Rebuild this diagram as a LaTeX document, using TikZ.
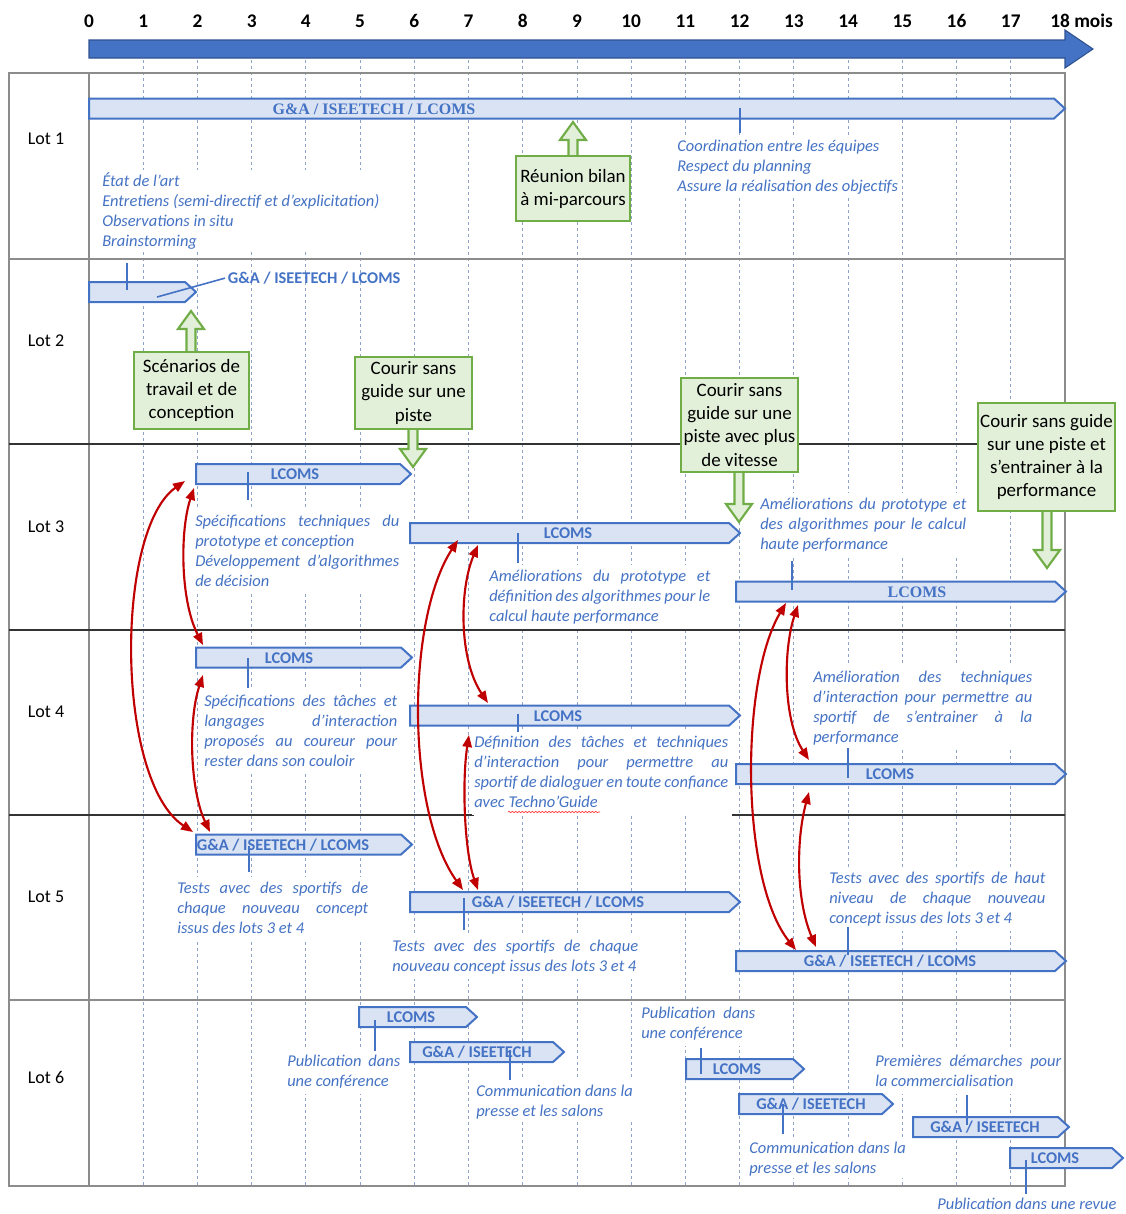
\documentclass[tikz,border=0pt]{standalone}
\usepackage{fontspec}
\setmainfont{Carlito}
\newfontfamily\lserif{Liberation Serif}
\usetikzlibrary{arrows.meta,decorations.pathmorphing}
\definecolor{oblue}{HTML}{4472C4}
\definecolor{dblue}{HTML}{2F528F}
\definecolor{barfill}{HTML}{DAE3F3}
\definecolor{ggreen}{HTML}{70AD47}
\definecolor{gfill}{HTML}{E2F0D9}
\definecolor{dred}{HTML}{C00000}
\definecolor{gridc}{HTML}{8FA3C8}
\definecolor{tline}{HTML}{8C8C8C}
\newcommand{\jl}[2]{\makebox[#1][s]{\strut #2}}
\newcommand{\ganttbar}[3]{\draw[barsty] (#1,#3-10) -- (#2-11,#3-10) -- (#2,#3) -- (#2-11,#3+10) -- (#1,#3+10) -- cycle;}
\newcommand{\gup}[3]{\draw[grnarr] (#1-4.5,#3) -- (#1-4.5,#2+18) -- (#1-13,#2+18) -- (#1,#2) -- (#1+13,#2+18) -- (#1+4.5,#2+18) -- (#1+4.5,#3) -- cycle;}
\newcommand{\gdown}[3]{\draw[grnarr] (#1-4.5,#2) -- (#1-4.5,#3-18) -- (#1-13,#3-18) -- (#1,#3) -- (#1+13,#3-18) -- (#1+4.5,#3-18) -- (#1+4.5,#2) -- cycle;}
\tikzset{
 barsty/.style={draw=oblue, line width=1.5pt, fill=barfill, line join=miter},
 ticksty/.style={draw=oblue, line width=1.5pt},
 grnbox/.style={draw=ggreen, line width=1.6pt, fill=gfill, inner sep=0pt, align=center, font=\fontsize{14.2}{17.3}\selectfont},
 grnarr/.style={draw=ggreen, line width=1.6pt, fill=gfill},
 desc/.style={font=\fontsize{12.35}{15}\selectfont\itshape, text=oblue, fill=white, inner sep=1.5pt, anchor=north west, xshift=-1.5pt, yshift=1.5pt, align=left},
 barlbl/.style={font=\fontsize{12.3}{14}\selectfont\bfseries, text=oblue, anchor=base, inner sep=0pt},
 barlblserif/.style={font={\lserif\bfseries\fontsize{12}{14}\selectfont}, text=oblue, anchor=base, inner sep=0pt},
 redarr/.style={draw=dred, line width=1.6pt, <->, >={Triangle[length=9pt,width=7pt]}},
 gridl/.style={draw=gridc, line width=0.7pt, dash pattern=on 2.5pt off 2pt},
 tabline/.style={draw=tline, line width=1pt},
 sepdark/.style={draw=black!80, line width=1.3pt},
 lotlbl/.style={font=\fontsize{13.5}{16}\selectfont},
 monthlbl/.style={font=\fontsize{14.5}{17}\selectfont\bfseries, anchor=base, inner sep=0pt},
}
\begin{document}
\begin{tikzpicture}[x=0.75pt,y=-0.75pt]
\useasboundingbox (0,0) rectangle (1126,1214);
% grid
\foreach \m in {1,...,17} \draw[gridl] ({89+54.22*\m},60) -- ({89+54.22*\m},1186);
% table
\draw[tabline] (9,73) rectangle (1065,1186);
\draw[tabline] (89,73) -- (89,1186);
\draw[tabline] (9,259) -- (1065,259);
\draw[sepdark] (9,444) -- (1065,444);
\draw[sepdark] (9,630) -- (1065,630);
\draw[sepdark] (9,815) -- (474,815);
\draw[sepdark] (732,815) -- (1065,815);
\draw[tabline] (9,1000) -- (1065,1000);
% lot labels
\node[lotlbl] (lot1) at (46,139) {Lot 1};
\node[lotlbl] (lot2) at (46,341) {Lot 2};
\node[lotlbl] (lot3) at (46,527) {Lot 3};
\node[lotlbl] (lot4) at (46,712) {Lot 4};
\node[lotlbl] (lot5) at (46,897) {Lot 5};
\node[lotlbl] (lot6) at (46,1077) {Lot 6};
% months
\foreach \m in {0,...,17} \node[monthlbl] (m\m) at ({89+54.22*\m},27) {\m};
\node[monthlbl, anchor=base west] (m18) at (1050,27) {18 mois};
% axis arrow
\draw[fill=oblue, draw=dblue, line width=0.8pt] (89,40) -- (1065,40) -- (1065,30) -- (1093,49) -- (1065,68) -- (1065,58) -- (89,58) -- cycle;
% descriptions
\node[desc] (l1a) at (102,172) {\strut État de l’art\\Entretiens (semi-directif et d’explicitation)\\Observations in situ\\Brainstorming};
\node[desc] (l1b) at (677,137) {\strut Coordination entre les équipes\\Respect du planning\\Assure la réalisation des objectifs};
\node[desc] (l3a) at (195,512) {\jl{153pt}{Spécifications techniques du}\\\strut prototype et conception\\\jl{153pt}{Développement d’algorithmes}\\\strut de décision};
\node[desc] (l3b) at (489,567) {\jl{165.75pt}{Améliorations du prototype et}\\\jl{165.75pt}{définition des algorithmes pour le}\\\strut calcul haute performance};
\node[desc] (l3c) at (760,495) {\jl{154.5pt}{Améliorations du prototype et}\\\jl{154.5pt}{des algorithmes pour le calcul}\\\strut haute performance};
\node[desc] (l4a) at (204,692) {\jl{144.75pt}{Spécifications des tâches et}\\\jl{144.75pt}{langages d’interaction}\\\jl{144.75pt}{proposés au coureur pour}\\\strut rester dans son couloir};
\node[desc] (l4b) at (474,733) {\jl{190.5pt}{Définition des tâches et techniques}\\\jl{190.5pt}{d’interaction pour permettre au}\\\jl{190.5pt}{sportif de dialoguer en toute confiance}\\\strut avec Techno’Guide};
\node[desc] (l4c) at (813,668) {\jl{164.25pt}{Amélioration des techniques}\\\jl{164.25pt}{d’interaction pour permettre au}\\\jl{164.25pt}{sportif de s’entrainer à la}\\\strut performance};
\node[desc] (l5a) at (177,879) {\jl{143.25pt}{Tests avec des sportifs de}\\\jl{143.25pt}{chaque nouveau concept}\\\strut issus des lots 3 et 4};
\node[desc] (l5b) at (392,937) {\jl{184.5pt}{Tests avec des sportifs de chaque}\\\strut nouveau concept issus des lots 3 et 4};
\node[desc] (l5c) at (829,869) {\jl{162pt}{Tests avec des sportifs de haut}\\\jl{162pt}{niveau de chaque nouveau}\\\strut concept issus des lots 3 et 4};
\node[desc] (l6a) at (287,1052) {\jl{84.75pt}{Publication dans}\\\strut une conférence};
\node[desc] (l6b) at (476,1082) {\strut Communication dans la\\presse et les salons};
\node[desc] (l6c) at (641,1004) {\jl{85.5pt}{Publication dans}\\\strut une conférence};
\node[desc] (l6d) at (875,1052) {\jl{139.5pt}{Premières démarches pour}\\\strut la commercialisation};
\node[desc] (l6e) at (749,1139) {\strut Communication dans la\\presse et les salons};
\node[desc] (l6f) at (937,1195) {\strut Publication dans une revue};
% bars
\ganttbar{89}{1065}{108.5}
\ganttbar{89}{196}{292}
\ganttbar{196}{411}{474}
\ganttbar{410}{740}{533}
\ganttbar{736}{1066}{591.5}
\ganttbar{196}{412}{657.5}
\ganttbar{410}{740}{715.5}
\ganttbar{736}{1066}{774}
\ganttbar{196}{412}{844.5}
\ganttbar{410}{740}{902}
\ganttbar{736}{1066}{961}
\ganttbar{359}{477}{1017}
\ganttbar{410}{564}{1052}
\ganttbar{686}{804}{1069}
\ganttbar{739}{893}{1104}
\ganttbar{913}{1069}{1127}
\ganttbar{1010}{1123}{1158}
% ticks
\draw[ticksty] (740,108) -- (740,133);
\draw[ticksty] (127,263) -- (127,290);
\draw[ticksty] (248,472) -- (248,500);
\draw[ticksty] (518,533) -- (518,563);
\draw[ticksty] (792,561) -- (792,590);
\draw[ticksty] (248,658) -- (248,688);
\draw[ticksty] (518,714) -- (518,732);
\draw[ticksty] (848,748) -- (848,778);
\draw[ticksty] (249,846) -- (249,872);
\draw[ticksty] (464,898) -- (464,930);
\draw[ticksty] (848,927) -- (848,955);
\draw[ticksty] (375,1020) -- (375,1051);
\draw[ticksty] (510,1050) -- (510,1080);
\draw[ticksty] (701,1048) -- (701,1074);
\draw[ticksty] (783,1104) -- (783,1134);
\draw[ticksty] (967,1095) -- (967,1125);
\draw[ticksty] (1026,1160) -- (1026,1194);
% bar labels
\node[barlblserif] (b1) at (374,114) {G\&A / ISEETECH / LCOMS};
\node[barlbl, anchor=base west, inner sep=2pt] (lbl2) at (225,283.5) {G\&A / ISEETECH / LCOMS};
\draw[draw=oblue, line width=1.2pt] (157,297) -- (lbl2.west);
\node[barlbl] (b31) at (295,479.5) {LCOMS};
\node[barlbl] (b32) at (568,538.5) {LCOMS};
\node[barlblserif] (b33) at (917,597) {LCOMS};
\node[barlbl] (b41) at (289,663) {LCOMS};
\node[barlbl] (b42) at (558,721) {LCOMS};
\node[barlbl] (b43) at (890,779.5) {LCOMS};
\node[barlbl] (b51) at (283,850) {G\&A / ISEETECH / LCOMS};
\node[barlbl] (b52) at (558,907.5) {G\&A / ISEETECH / LCOMS};
\node[barlbl] (b53) at (890,966.5) {G\&A / ISEETECH / LCOMS};
\node[barlbl] (b61) at (411,1022.5) {LCOMS};
\node[barlbl] (b62) at (477,1057.5) {G\&A / ISEETECH};
\node[barlbl] (b63) at (737,1074.5) {LCOMS};
\node[barlbl] (b64) at (811,1109.5) {G\&A / ISEETECH};
\node[barlbl] (b65) at (985,1132.5) {G\&A / ISEETECH};
\node[barlbl] (b66) at (1055,1163.5) {LCOMS};
% green arrows and boxes
\gup{573}{122}{160}
\gup{191}{311}{356}
\gdown{413}{425}{467}
\gdown{739}{468}{522}
\gdown{1047}{507}{568}
\node[grnbox, minimum width=85.5pt, minimum height=48.75pt] (g1) at (573,188.5) {Réunion bilan\\à mi-parcours};
\node[grnbox, minimum width=86.25pt, minimum height=57.75pt] (g2) at (191.5,390.5) {Scénarios de\\travail et de\\conception};
\node[grnbox, minimum width=87.75pt, minimum height=54pt] (g3) at (413.5,393) {Courir sans\\guide sur une\\piste};
\node[grnbox, minimum width=87.75pt, minimum height=70.5pt] (g4) at (739.5,425) {Courir sans\\guide sur une\\piste avec plus\\de vitesse};
\node[grnbox, minimum width=102.75pt, minimum height=81pt] (g5) at (1046.5,457) {Courir sans guide\\sur une piste et\\s’entrainer à la\\performance};
% red arrows
\coordinate (r1s) at (185,481); \coordinate (r1e) at (193,832);
\coordinate (r2s) at (194,488); \coordinate (r2e) at (203,645);
\coordinate (r3s) at (203,675); \coordinate (r3e) at (210,832);
\coordinate (r4s) at (458,540); \coordinate (r4e) at (463,890);
\coordinate (r5s) at (478,545); \coordinate (r5e) at (488,703);
\coordinate (r6s) at (469,735); \coordinate (r6e) at (478,890);
\coordinate (r7s) at (786,603); \coordinate (r7e) at (796,950);
\coordinate (r8s) at (798,605); \coordinate (r8e) at (809,760);
\coordinate (r9s) at (809,792); \coordinate (r9e) at (816,947);
\draw[redarr] (r1s) .. controls (115,530) and (115,780) .. (r1e);
\draw[redarr] (r2s) .. controls (180,530) and (180,600) .. (r2e);
\draw[redarr] (r3s) .. controls (188,720) and (190,790) .. (r3e);
\draw[redarr] (r4s) .. controls (406,620) and (406,810) .. (r4e);
\draw[redarr] (r5s) .. controls (459,590) and (459,660) .. (r5e);
\draw[redarr] (r6s) .. controls (462,780) and (464,850) .. (r6e);
\draw[redarr] (r7s) .. controls (740,680) and (740,880) .. (r7e);
\draw[redarr] (r8s) .. controls (783,650) and (783,720) .. (r8e);
\draw[redarr] (r9s) .. controls (796,840) and (796,900) .. (r9e);
% spell-check underline
\draw[draw=red!80, line width=0.5pt, decorate, decoration={snake, amplitude=0.5pt, segment length=2.5pt}] (508,812) -- (600,812);
\end{tikzpicture}
\end{document}
